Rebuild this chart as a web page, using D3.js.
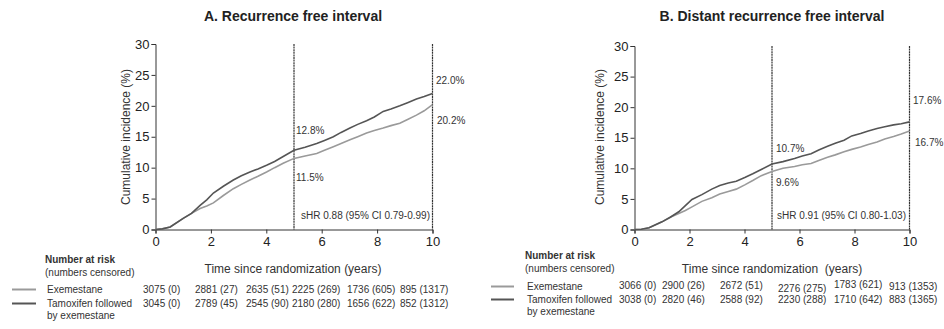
<!DOCTYPE html>
<html>
<head>
<meta charset="utf-8">
<script src="https://cdn.jsdelivr.net/npm/d3@7"></script>
<style>
  body { margin: 0; background: #fff; }
  svg { font-family: "Liberation Sans", Arial, sans-serif; }
</style>
</head>
<body>
<svg id="chart" width="944" height="329"></svg>
<script>
// Chart data
//

var years = [0, 0.25, 0.53, 1.0, 1.3, 1.61, 1.85, 2.09, 2.45, 2.81, 3.1, 3.41, 3.7, 4.01, 4.3, 4.61, 5.0,
             5.4, 5.82, 6.1, 6.42, 6.7, 7.02, 7.3, 7.62, 7.9, 8.22, 8.5, 8.82, 9.1, 9.42, 9.7, 10.0];

// panel A: recurrence free interval (%)
var aTamoxifen = [0, 0.1, 0.4, 1.8, 2.6, 3.9, 4.8, 5.9, 7.0, 8.0, 8.7, 9.3, 9.8, 10.4, 11.0, 11.8, 12.8,
                  13.3, 13.9, 14.4, 15.0, 15.7, 16.4, 17.0, 17.6, 18.2, 19.1, 19.5, 20.0, 20.5, 21.1, 21.5, 22.0];
var aExemestane = [0, 0.1, 0.4, 1.8, 2.6, 3.4, 3.8, 4.3, 5.5, 6.6, 7.3, 8.0, 8.6, 9.3, 10.0, 10.7, 11.5,
                   11.9, 12.3, 12.8, 13.4, 13.9, 14.5, 15.0, 15.6, 16.0, 16.4, 16.8, 17.2, 17.8, 18.5, 19.2, 20.2];

// panel B: distant recurrence free interval (%)
var bTamoxifen = [0, 0.05, 0.3, 1.25, 2.0, 2.9, 3.9, 4.9, 5.7, 6.6, 7.2, 7.6, 7.9, 8.5, 9.1, 9.8, 10.7,
                  11.1, 11.6, 12.0, 12.4, 13.0, 13.6, 14.1, 14.6, 15.3, 15.7, 16.1, 16.5, 16.8, 17.1, 17.3, 17.6];
var bExemestane = [0, 0.05, 0.3, 1.25, 2.0, 2.6, 3.1, 3.7, 4.6, 5.2, 5.8, 6.2, 6.6, 7.3, 8.0, 8.8, 9.5,
                   10.0, 10.3, 10.6, 10.8, 11.3, 11.8, 12.2, 12.7, 13.1, 13.5, 13.9, 14.3, 14.8, 15.2, 15.6, 16.1];

var aRiskExe = ["3075 (0)", "2881 (27)", "2635 (51)", "2225 (269)", "1736 (605)", "895 (1317)"];
var aRiskTam = ["3045 (0)", "2789 (45)", "2545 (90)", "2180 (280)", "1656 (622)", "852 (1312)"];
var bRiskExe = ["3066 (0)", "2900 (26)", "2672 (51)", "2276 (275)", "1783 (621)", "913 (1353)"];
var bRiskTam = ["3038 (0)", "2820 (46)", "2588 (92)", "2230 (288)", "1710 (642)", "883 (1365)"];

var xTicks = [0, 2, 4, 6, 8, 10];
var yTicks = [0, 5, 10, 15, 20, 25, 30];

var DARK = "#555";
var LIGHT = "#9a9a9a";

var svg = d3.select("#chart");

function drawPanel(o) {
  // draws one cumulative incidence panel with its risk table
  var x = d3.scaleLinear().domain([0, 10]).range([o.x0, o.x1]);
  var y = d3.scaleLinear().domain([0, 30]).range([229.5, o.yTop]);
  var g = svg.append("g");

  g.append("text")
    .attr("x", o.titleX).attr("y", 21)
    .attr("text-anchor", "middle")
    .attr("font-weight", "bold").attr("font-size", 14).attr("fill", "#222")
    .text(o.title);

  // axes
  var yAxis = g.append("g")
    .attr("transform", "translate(" + o.x0 + ",0)")
    .call(d3.axisLeft(y).tickValues(yTicks).tickSize(4).tickPadding(2));
  var xAxis = g.append("g")
    .attr("transform", "translate(0,229.5)")
    .call(d3.axisBottom(x).tickValues(xTicks).tickSize(4).tickPadding(3));
  [xAxis, yAxis].forEach(function(a) {
    a.select(".domain").attr("stroke", "#333");
    a.selectAll(".tick line").attr("stroke", "#333");
    a.selectAll(".tick text")
      .attr("font-family", "'Liberation Sans Narrow', 'Liberation Sans', Arial, sans-serif")
      .attr("font-size", 13).attr("fill", "#222");
  });

  g.append("text")
    .attr("transform", "translate(" + o.yLabelX + ",137) rotate(-90)")
    .attr("text-anchor", "middle").attr("font-size", 12).attr("fill", "#333")
    .text("Cumulative incidence (%)");

  g.append("text")
    .attr("x", o.titleX).attr("y", 273)
    .attr("text-anchor", "middle").attr("font-size", 12).attr("fill", "#333")
    .attr("xml:space", "preserve")
    .text(o.xLabel);

  // reference lines at 5 and 10 years
  [5, 10].forEach(function(t) {
    g.append("line")
      .attr("x1", x(t)).attr("x2", x(t))
      .attr("y1", y(30)).attr("y2", y(0))
      .attr("stroke", "#333").attr("stroke-width", 1.2)
      .attr("stroke-dasharray", "2,0.6");
  });

  var line = d3.line()
    .x(function(d, i) { return x(years[i]); })
    .y(function(d) { return y(d); });

  g.append("path").datum(o.exe)
    .attr("d", line).attr("fill", "none")
    .attr("stroke", LIGHT).attr("stroke-width", 1.6);
  g.append("path").datum(o.tam)
    .attr("d", line).attr("fill", "none")
    .attr("stroke", DARK).attr("stroke-width", 1.6);

  // annotations
  o.notes.forEach(function(n) {
    g.append("text")
      .attr("x", n.x).attr("y", n.y)
      .attr("text-anchor", n.anchor || "start")
      .attr("font-size", 10).attr("fill", "#333")
      .text(n.text);
  });

  // risk table
  g.append("text")
    .attr("x", o.riskX).attr("y", o.riskY)
    .attr("font-size", 10).attr("font-weight", "bold").attr("fill", "#333")
    .text("Number at risk");
  g.append("text")
    .attr("x", o.riskX).attr("y", o.riskY + 13)
    .attr("font-size", 10).attr("fill", "#333")
    .text("(numbers censored)");

  [[o.rowExe, LIGHT, "Exemestane"], [o.rowTam, DARK, "Tamoxifen followed"]].forEach(function(r) {
    g.append("line")
      .attr("x1", o.legX0).attr("x2", o.legX1)
      .attr("y1", r[0] - 3.5).attr("y2", r[0] - 3.5)
      .attr("stroke", r[1]).attr("stroke-width", 2);
    g.append("text")
      .attr("x", o.riskX + 2).attr("y", r[0])
      .attr("font-size", 10).attr("fill", "#333")
      .text(r[2]);
  });
  g.append("text")
    .attr("x", o.riskX + 2).attr("y", o.rowTam + 12)
    .attr("font-size", 10).attr("fill", "#333")
    .text("by exemestane");

  [[o.riskExe, o.rowExe, o.jitterExe], [o.riskTam, o.rowTam, o.jitterTam]].forEach(function(r) {
    r[0].forEach(function(s, i) {
      g.append("text")
        .attr("x", o.colX[i]).attr("y", r[1] + (r[2] ? r[2][i] : 0))
        .attr("font-size", 10).attr("fill", "#333")
        .text(s);
    });
  });
}

drawPanel({
  title: "A. Recurrence free interval", titleX: 293,
  xLabel: "Time since randomization (years)",
  x0: 155.5, x1: 432.5, yTop: 44, yLabelX: 130,
  exe: aExemestane, tam: aTamoxifen,
  notes: [
    {x: 296, y: 134, text: "12.8%"},
    {x: 296, y: 181, text: "11.5%"},
    {x: 436, y: 84, text: "22.0%"},
    {x: 437, y: 124, text: "20.2%"},
    {x: 430, y: 219, text: "sHR 0.88 (95% CI 0.79-0.99)", anchor: "end"}
  ],
  riskX: 45, riskY: 263, legX0: 12, legX1: 36,
  rowExe: 293, rowTam: 307,
  colX: [143, 195, 246, 292, 347, 400],
  riskExe: aRiskExe, riskTam: aRiskTam
});

drawPanel({
  title: "B. Distant recurrence free interval", titleX: 772,
  xLabel: "Time since randomization  (years)",
  x0: 634.5, x1: 909.5, yTop: 46, yLabelX: 604,
  exe: bExemestane, tam: bTamoxifen,
  notes: [
    {x: 776, y: 152, text: "10.7%"},
    {x: 776, y: 186, text: "9.6%"},
    {x: 913, y: 104, text: "17.6%"},
    {x: 915, y: 146, text: "16.7%"},
    {x: 906, y: 219, text: "sHR 0.91 (95% CI 0.80-1.03)", anchor: "end"}
  ],
  riskX: 525, riskY: 259, legX0: 491, legX1: 514,
  rowExe: 290, rowTam: 303,
  colX: [619, 662, 720, 778, 834, 889],
  jitterExe: [-1, -1, -1, 2, -2, 0],
  riskExe: bRiskExe, riskTam: bRiskTam
});
</script>
</body>
</html>
